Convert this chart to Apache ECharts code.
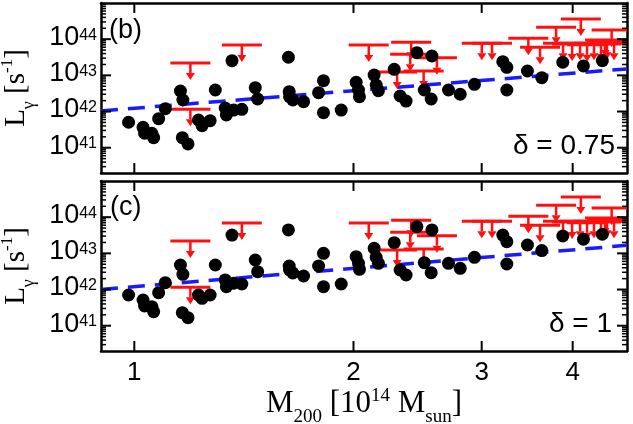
<!DOCTYPE html>
<html><head><meta charset="utf-8">
<script src="https://cdn.jsdelivr.net/npm/echarts@6/dist/echarts.min.js"></script>
<style>html,body{margin:0;padding:0;background:#fff}#c{width:633px;height:424px}</style>
</head><body><div id="c"></div>
<script>
// ---- data (M200 in 1e14 Msun, L_gamma in s^-1) ----
const massDet = [0.982,1.028,1.033,1.057,1.063,1.080,1.103,1.157,1.166,1.164,1.185,1.225,1.239,1.271,1.292,1.362,1.333,1.338,1.369,1.405,1.466,1.477,1.628,1.632,1.634,1.651,1.708,1.819,1.791,1.819,1.924,2.017,2.032,2.038,2.135,2.149,2.164,2.275,2.318,2.362,2.444,2.563,2.502,2.557,2.701,2.803,2.932,3.207,3.248,3.248,3.467,3.628,3.877,4.139,4.394];
const lumB = [5.05e41,3.66e41,2.51e41,2.51e41,1.89e41,6.34e41,1.20e42,3.70e42,2.08e42,1.89e41,1.27e41,5.83e41,4.06e41,5.58e41,3.94e42,2.54e43,1.25e42,8.02e41,1.10e42,1.15e42,4.56e42,2.22e42,3.16e43,3.53e42,2.57e42,2.08e42,1.87e42,7.11e42,3.32e42,9.29e41,1.10e42,6.43e42,3.94e42,2.57e42,1.02e43,5.42e42,3.77e42,1.47e43,2.69e42,1.95e42,4.23e43,3.43e43,3.94e42,2.22e42,3.94e42,3.00e42,5.66e42,2.39e43,1.67e43,3.94e42,1.32e43,8.61e42,2.30e43,1.82e43,2.54e43];
const lumC = [7.06e41,5.14e41,3.51e41,3.36e41,2.44e41,8.18e41,1.55e42,4.76e42,2.64e42,2.29e41,1.67e41,7.06e41,5.73e41,7.06e41,4.76e42,3.21e43,1.84e42,1.20e42,1.49e42,1.42e42,6.55e42,3.11e42,4.43e43,4.48e42,3.47e42,2.86e42,2.37e42,1.00e43,4.48e42,1.20e42,1.42e42,8.09e42,5.31e42,3.62e42,1.38e43,7.78e42,5.31e42,1.97e43,3.47e42,2.52e42,5.46e43,4.43e43,5.52e42,2.92e42,5.31e42,3.86e42,7.78e42,3.21e43,2.10e43,5.08e42,1.70e43,1.19e43,3.02e43,2.45e43,3.37e43];
const ulMass = [1.194,1.194,1.405,2.099,2.400,2.393,2.604,2.296,2.497,3.001,3.100,3.477,3.608,3.796,4.105,4.525,3.880,3.993,4.095,4.186,4.279,4.375,4.459,4.559,4.431];
const ulLum = [2.20e43,1.15e42,6.90e43,6.90e43,8.20e43,3.82e43,3.08e43,1.24e43,1.32e43,7.69e43,7.69e43,1.06e44,5.97e43,2.13e44,3.61e44,1.79e44,7.69e43,7.30e43,7.69e43,7.00e43,7.69e43,7.30e43,8.20e43,7.69e43,9.49e43];
const fitMass = [0.9, 4.75];
const fitB = [1.04e42, 1.51e43];
const fitC = [1.00e42, 1.67e43];
const xTickVals = [1, 2, 3, 4];
const yMajorVals = [1e41, 1e42, 1e43, 1e44];
const minorMult = [2,3,4,5,6,7,8,9];
const minorDecades = [40,41,42,43,44];
const xRange = [0.9, 4.75];
const yRange = [2e40, 1e45];

// Both axes are logarithmic: values are mapped through log10 onto value axes.
const L = Math.log10;
const yMinorVals = [];
minorDecades.forEach(d => minorMult.forEach(m => {
  const v = m * Math.pow(10, d);
  if (v > yRange[0] && v < yRange[1]) yMinorVals.push(v);
}));

const SANS = '"Liberation Sans", Arial, sans-serif';
const SERIF = '"Liberation Serif", "Times New Roman", serif';
const RED = '#ff1010', BLUE = '#1a1aff';
const XL = [L(xRange[0]), L(xRange[1])], YL = [L(yRange[0]), L(yRange[1])];

function xAx(grid, pos, showLabel, withName) {
  const a = {
    type: 'value', gridIndex: grid, position: pos, min: XL[0], max: XL[1],
    axisLine: {show: true, onZero: false, lineStyle: {color: '#000', width: 2.5}},
    axisTick: {show: false},
    axisLabel: {show: showLabel, customValues: xTickVals.map(L), margin: 9, fontSize: 26, fontFamily: SANS, color: '#000',
      formatter: v => String(Math.round(Math.pow(10, v)))},
    splitLine: {show: false}, minorTick: {show: false}, minorSplitLine: {show: false}
  };
  if (withName) {
    a.name = 'M{s|200} [10{p|14} M{s|sun}]';
    a.nameLocation = 'middle';
    a.nameGap = 35;
    a.nameTextStyle = {fontSize: 31, fontFamily: SERIF, color: '#000', lineHeight: 34, verticalAlign: 'top',
      rich: {
        s: {fontSize: 19, fontFamily: SERIF, color: '#000', lineHeight: 19, verticalAlign: 'top', padding: [21, 0, 0, 0]},
        p: {fontSize: 19, fontFamily: SERIF, color: '#000', lineHeight: 19, verticalAlign: 'top', padding: [0, 0, 0, 0]}
      }};
  }
  return a;
}
function yAx(grid, pos, withLabel) {
  const a = {
    type: 'value', gridIndex: grid, position: pos, min: YL[0], max: YL[1],
    axisLine: {show: true, onZero: false, lineStyle: {color: '#000', width: 2.5}},
    axisTick: {show: false},
    axisLabel: {show: withLabel, customValues: yMajorVals.map(L), margin: 4, color: '#000',
      formatter: v => '{b|10}{e|' + Math.round(v) + '}',
      rich: {
        b: {fontSize: 27, fontFamily: SANS, color: '#000', lineHeight: 24, verticalAlign: 'bottom', padding: [6, 0, 0, 0]},
        e: {fontSize: 16, fontFamily: SANS, color: '#000', lineHeight: 15, verticalAlign: 'top'}
      }},
    splitLine: {show: false}, minorTick: {show: false}, minorSplitLine: {show: false}
  };
  if (withLabel) {
    a.name = 'L{g|γ} [s{p|-1}]';
    a.nameLocation = 'middle';
    a.nameRotate = 90;
    a.nameGap = 67;
    a.nameTextStyle = {fontSize: 29, fontFamily: SERIF, color: '#000', lineHeight: 34, verticalAlign: 'top',
      rich: {
        g: {fontSize: 18, fontFamily: SERIF, color: '#000', lineHeight: 18, verticalAlign: 'top', padding: [21, 0, 0, 0]},
        p: {fontSize: 17, fontFamily: SERIF, color: '#000', lineHeight: 17, verticalAlign: 'top', padding: [0, 0, 0, 0]}
      }};
  }
  return a;
}

function pairs(xs, ys) { return xs.map((x, i) => [L(x), L(ys[i])]); }

function ulSeries(xi, yi) {
  return {
    type: 'custom', xAxisIndex: xi, yAxisIndex: yi, clip: true, z: 3, silent: true,
    data: pairs(ulMass, ulLum),
    renderItem: function (params, api) {
      const p = api.coord([api.value(0), api.value(1)]);
      const hw = 20, len = 17, hh = 7, aw = 4.5;
      return {type: 'group', children: [
        {type: 'line', shape: {x1: p[0] - hw, y1: p[1], x2: p[0] + hw, y2: p[1]}, style: {stroke: RED, lineWidth: 3}},
        {type: 'line', shape: {x1: p[0], y1: p[1], x2: p[0], y2: p[1] + len - hh}, style: {stroke: RED, lineWidth: 2.5}},
        {type: 'polygon', shape: {points: [[p[0] - aw, p[1] + len - hh], [p[0] + aw, p[1] + len - hh], [p[0], p[1] + len]]}, style: {fill: RED}}
      ]};
    }
  };
}
function fitSeries(xi, yi, ys) {
  return {type: 'line', xAxisIndex: xi, yAxisIndex: yi, data: pairs(fitMass, ys), symbol: 'none', z: 2, silent: true,
    lineStyle: {color: BLUE, width: 3.5, type: [17, 10]}};
}
function dotSeries(xi, yi, ys) {
  return {type: 'scatter', xAxisIndex: xi, yAxisIndex: yi, data: pairs(massDet, ys), symbolSize: 13, z: 4, silent: true,
    itemStyle: {color: '#000', opacity: 1}};
}

const texts = [
  {type: 'text', x: 109, y: 31, style: {text: '(b)', font: '27px "Liberation Sans"', fill: '#000', verticalAlign: 'middle'}},
  {type: 'text', x: 110, y: 208, style: {text: '(c)', font: '27px "Liberation Sans"', fill: '#000', verticalAlign: 'middle'}},
  {type: 'text', x: 615, y: 146, style: {text: 'δ = 0.75', font: '28px "Liberation Sans"', fill: '#000', align: 'right', verticalAlign: 'middle'}},
  {type: 'text', x: 612, y: 324, style: {text: 'δ = 1', font: '28px "Liberation Sans"', fill: '#000', align: 'right', verticalAlign: 'middle'}}
];

const chart = echarts.init(document.getElementById('c'), null, {renderer: 'canvas'});
chart.setOption({
  animation: false,
  backgroundColor: '#fff',
  grid: [
    {left: 101, top: 3, width: 526, height: 170, containLabel: false, outerBoundsMode: 'none'},
    {left: 101, top: 181, width: 526, height: 170, containLabel: false, outerBoundsMode: 'none'}
  ],
  xAxis: [xAx(0, 'bottom', false, false), xAx(0, 'top', false, false), xAx(1, 'bottom', true, true), xAx(1, 'top', false, false)],
  yAxis: [yAx(0, 'left', true), yAx(0, 'right', false), yAx(1, 'left', true), yAx(1, 'right', false)],
  series: [
    fitSeries(0, 0, fitB), ulSeries(0, 0), dotSeries(0, 0, lumB),
    fitSeries(2, 2, fitC), ulSeries(2, 2), dotSeries(2, 2, lumC)
  ],
  graphic: texts
});

// Inward frame ticks on all four sides of each panel, placed through the axes' own scales.
const tickLines = [];
[[0, 0], [2, 2]].forEach(([xi, yi]) => {
  const px = v => chart.convertToPixel({xAxisIndex: xi}, v);
  const py = v => chart.convertToPixel({yAxisIndex: yi}, v);
  const x0 = px(XL[0]), x1 = px(XL[1]), y0 = py(YL[0]), y1 = py(YL[1]);
  const add = (a, b, c, d, w) => tickLines.push({type: 'line', z: 50, silent: true,
    shape: {x1: a, y1: b, x2: c, y2: d}, style: {stroke: '#000', lineWidth: w}});
  xTickVals.forEach(v => {
    const x = px(L(v));
    add(x, y0, x, y0 - 10, 2);
    add(x, y1, x, y1 + 10, 2);
  });
  yMajorVals.forEach(v => {
    const y = py(L(v));
    add(x0, y, x0 + 10, y, 2);
    add(x1, y, x1 - 10, y, 2);
  });
  yMinorVals.forEach(v => {
    const y = py(L(v));
    add(x0, y, x0 + 5, y, 1.5);
    add(x1, y, x1 - 5, y, 1.5);
  });
});
chart.setOption({graphic: texts.concat(tickLines)});
</script></body></html>
